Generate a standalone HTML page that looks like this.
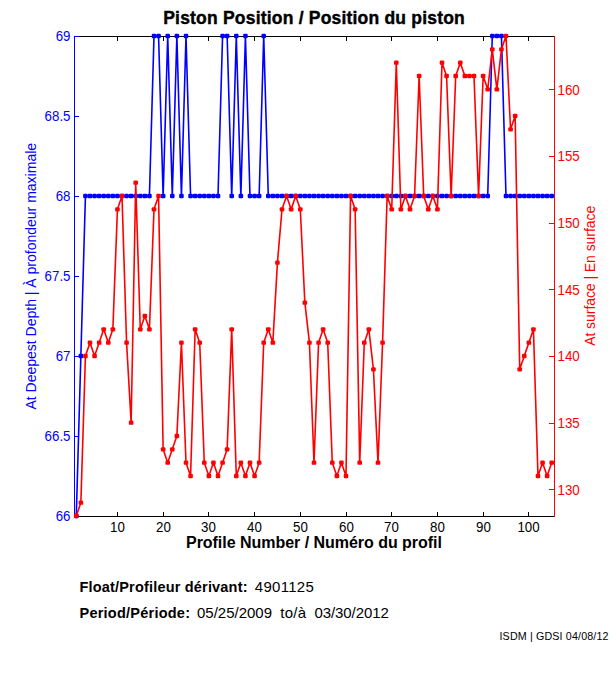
<!DOCTYPE html>
<html><head><meta charset="utf-8"><title>Piston Position</title>
<style>html,body{margin:0;padding:0;background:#fff;}body{width:611px;height:675px;position:relative;overflow:hidden;}</style></head>
<body>
<svg width="611" height="675" viewBox="0 0 611 675" style="position:absolute;left:0;top:0">
<rect width="611" height="675" fill="#fff"/>
<g shape-rendering="crispEdges" stroke-width="1" fill="none">
<path stroke="#000" d="M74.5 36.5H554.5M74.5 516.5H554.5
M117.5 516.5v-4.5M117.5 36.5v4.5
M163.5 516.5v-4.5M163.5 36.5v4.5
M208.5 516.5v-4.5M208.5 36.5v4.5
M254.5 516.5v-4.5M254.5 36.5v4.5
M300.5 516.5v-4.5M300.5 36.5v4.5
M346.5 516.5v-4.5M346.5 36.5v4.5
M391.5 516.5v-4.5M391.5 36.5v4.5
M437.5 516.5v-4.5M437.5 36.5v4.5
M483.5 516.5v-4.5M483.5 36.5v4.5
M528.5 516.5v-4.5M528.5 36.5v4.5
"/>
<path stroke="#00f" d="M74.5 36.0V517.0
M74.5 516.5h4.5
M74.5 436.5h4.5
M74.5 356.5h4.5
M74.5 276.5h4.5
M74.5 196.5h4.5
M74.5 116.5h4.5
M74.5 36.5h4.5
"/>
<path stroke="#f00" d="M554.5 36.0V517.0
M554.5 489.8h-5.5
M554.5 423.2h-5.5
M554.5 356.5h-5.5
M554.5 289.8h-5.5
M554.5 223.2h-5.5
M554.5 156.5h-5.5
M554.5 89.8h-5.5
"/>
</g>
<g>
<polyline points="76.29,516.00 80.86,356.00 85.43,196.00 90.00,196.00 94.57,196.00 99.14,196.00 103.71,196.00 108.29,196.00 112.86,196.00 117.43,196.00 122.00,196.00 126.57,196.00 131.14,196.00 135.71,196.00 140.29,196.00 144.86,196.00 149.43,196.00 154.00,36.00 158.57,36.00 163.14,196.00 167.71,36.00 172.29,196.00 176.86,36.00 181.43,196.00 186.00,36.00 190.57,196.00 195.14,196.00 199.71,196.00 204.29,196.00 208.86,196.00 213.43,196.00 218.00,196.00 222.57,36.00 227.14,36.00 231.71,196.00 236.29,36.00 240.86,196.00 245.43,36.00 250.00,196.00 254.57,196.00 259.14,196.00 263.71,36.00 268.29,196.00 272.86,196.00 277.43,196.00 282.00,196.00 286.57,196.00 291.14,196.00 295.71,196.00 300.29,196.00 304.86,196.00 309.43,196.00 314.00,196.00 318.57,196.00 323.14,196.00 327.71,196.00 332.29,196.00 336.86,196.00 341.43,196.00 346.00,196.00 350.57,196.00 355.14,196.00 359.71,196.00 364.29,196.00 368.86,196.00 373.43,196.00 378.00,196.00 382.57,196.00 387.14,196.00 391.71,196.00 396.29,196.00 400.86,196.00 405.43,196.00 410.00,196.00 414.57,196.00 419.14,196.00 423.71,196.00 428.29,196.00 432.86,196.00 437.43,196.00 442.00,196.00 446.57,196.00 451.14,196.00 455.71,196.00 460.29,196.00 464.86,196.00 469.43,196.00 474.00,196.00 478.57,196.00 483.14,196.00 487.71,196.00 492.29,36.00 496.86,36.00 501.43,36.00 506.00,196.00 510.57,196.00 515.14,196.00 519.71,196.00 524.29,196.00 528.86,196.00 533.43,196.00 538.00,196.00 542.57,196.00 547.14,196.00 551.71,196.00" fill="none" stroke="#0000ff" stroke-width="1.6" stroke-linejoin="round"/>
<g fill="#0000ff"><rect x="73.99" y="513.80" width="4.6" height="4.4" rx="1.2"/><rect x="78.56" y="353.80" width="4.6" height="4.4" rx="1.2"/><rect x="83.13" y="193.80" width="4.6" height="4.4" rx="1.2"/><rect x="87.70" y="193.80" width="4.6" height="4.4" rx="1.2"/><rect x="92.27" y="193.80" width="4.6" height="4.4" rx="1.2"/><rect x="96.84" y="193.80" width="4.6" height="4.4" rx="1.2"/><rect x="101.41" y="193.80" width="4.6" height="4.4" rx="1.2"/><rect x="105.99" y="193.80" width="4.6" height="4.4" rx="1.2"/><rect x="110.56" y="193.80" width="4.6" height="4.4" rx="1.2"/><rect x="115.13" y="193.80" width="4.6" height="4.4" rx="1.2"/><rect x="119.70" y="193.80" width="4.6" height="4.4" rx="1.2"/><rect x="124.27" y="193.80" width="4.6" height="4.4" rx="1.2"/><rect x="128.84" y="193.80" width="4.6" height="4.4" rx="1.2"/><rect x="133.41" y="193.80" width="4.6" height="4.4" rx="1.2"/><rect x="137.99" y="193.80" width="4.6" height="4.4" rx="1.2"/><rect x="142.56" y="193.80" width="4.6" height="4.4" rx="1.2"/><rect x="147.13" y="193.80" width="4.6" height="4.4" rx="1.2"/><rect x="151.70" y="33.80" width="4.6" height="4.4" rx="1.2"/><rect x="156.27" y="33.80" width="4.6" height="4.4" rx="1.2"/><rect x="160.84" y="193.80" width="4.6" height="4.4" rx="1.2"/><rect x="165.41" y="33.80" width="4.6" height="4.4" rx="1.2"/><rect x="169.99" y="193.80" width="4.6" height="4.4" rx="1.2"/><rect x="174.56" y="33.80" width="4.6" height="4.4" rx="1.2"/><rect x="179.13" y="193.80" width="4.6" height="4.4" rx="1.2"/><rect x="183.70" y="33.80" width="4.6" height="4.4" rx="1.2"/><rect x="188.27" y="193.80" width="4.6" height="4.4" rx="1.2"/><rect x="192.84" y="193.80" width="4.6" height="4.4" rx="1.2"/><rect x="197.41" y="193.80" width="4.6" height="4.4" rx="1.2"/><rect x="201.99" y="193.80" width="4.6" height="4.4" rx="1.2"/><rect x="206.56" y="193.80" width="4.6" height="4.4" rx="1.2"/><rect x="211.13" y="193.80" width="4.6" height="4.4" rx="1.2"/><rect x="215.70" y="193.80" width="4.6" height="4.4" rx="1.2"/><rect x="220.27" y="33.80" width="4.6" height="4.4" rx="1.2"/><rect x="224.84" y="33.80" width="4.6" height="4.4" rx="1.2"/><rect x="229.41" y="193.80" width="4.6" height="4.4" rx="1.2"/><rect x="233.99" y="33.80" width="4.6" height="4.4" rx="1.2"/><rect x="238.56" y="193.80" width="4.6" height="4.4" rx="1.2"/><rect x="243.13" y="33.80" width="4.6" height="4.4" rx="1.2"/><rect x="247.70" y="193.80" width="4.6" height="4.4" rx="1.2"/><rect x="252.27" y="193.80" width="4.6" height="4.4" rx="1.2"/><rect x="256.84" y="193.80" width="4.6" height="4.4" rx="1.2"/><rect x="261.41" y="33.80" width="4.6" height="4.4" rx="1.2"/><rect x="265.99" y="193.80" width="4.6" height="4.4" rx="1.2"/><rect x="270.56" y="193.80" width="4.6" height="4.4" rx="1.2"/><rect x="275.13" y="193.80" width="4.6" height="4.4" rx="1.2"/><rect x="279.70" y="193.80" width="4.6" height="4.4" rx="1.2"/><rect x="284.27" y="193.80" width="4.6" height="4.4" rx="1.2"/><rect x="288.84" y="193.80" width="4.6" height="4.4" rx="1.2"/><rect x="293.41" y="193.80" width="4.6" height="4.4" rx="1.2"/><rect x="297.99" y="193.80" width="4.6" height="4.4" rx="1.2"/><rect x="302.56" y="193.80" width="4.6" height="4.4" rx="1.2"/><rect x="307.13" y="193.80" width="4.6" height="4.4" rx="1.2"/><rect x="311.70" y="193.80" width="4.6" height="4.4" rx="1.2"/><rect x="316.27" y="193.80" width="4.6" height="4.4" rx="1.2"/><rect x="320.84" y="193.80" width="4.6" height="4.4" rx="1.2"/><rect x="325.41" y="193.80" width="4.6" height="4.4" rx="1.2"/><rect x="329.99" y="193.80" width="4.6" height="4.4" rx="1.2"/><rect x="334.56" y="193.80" width="4.6" height="4.4" rx="1.2"/><rect x="339.13" y="193.80" width="4.6" height="4.4" rx="1.2"/><rect x="343.70" y="193.80" width="4.6" height="4.4" rx="1.2"/><rect x="348.27" y="193.80" width="4.6" height="4.4" rx="1.2"/><rect x="352.84" y="193.80" width="4.6" height="4.4" rx="1.2"/><rect x="357.41" y="193.80" width="4.6" height="4.4" rx="1.2"/><rect x="361.99" y="193.80" width="4.6" height="4.4" rx="1.2"/><rect x="366.56" y="193.80" width="4.6" height="4.4" rx="1.2"/><rect x="371.13" y="193.80" width="4.6" height="4.4" rx="1.2"/><rect x="375.70" y="193.80" width="4.6" height="4.4" rx="1.2"/><rect x="380.27" y="193.80" width="4.6" height="4.4" rx="1.2"/><rect x="384.84" y="193.80" width="4.6" height="4.4" rx="1.2"/><rect x="389.41" y="193.80" width="4.6" height="4.4" rx="1.2"/><rect x="393.99" y="193.80" width="4.6" height="4.4" rx="1.2"/><rect x="398.56" y="193.80" width="4.6" height="4.4" rx="1.2"/><rect x="403.13" y="193.80" width="4.6" height="4.4" rx="1.2"/><rect x="407.70" y="193.80" width="4.6" height="4.4" rx="1.2"/><rect x="412.27" y="193.80" width="4.6" height="4.4" rx="1.2"/><rect x="416.84" y="193.80" width="4.6" height="4.4" rx="1.2"/><rect x="421.41" y="193.80" width="4.6" height="4.4" rx="1.2"/><rect x="425.99" y="193.80" width="4.6" height="4.4" rx="1.2"/><rect x="430.56" y="193.80" width="4.6" height="4.4" rx="1.2"/><rect x="435.13" y="193.80" width="4.6" height="4.4" rx="1.2"/><rect x="439.70" y="193.80" width="4.6" height="4.4" rx="1.2"/><rect x="444.27" y="193.80" width="4.6" height="4.4" rx="1.2"/><rect x="448.84" y="193.80" width="4.6" height="4.4" rx="1.2"/><rect x="453.41" y="193.80" width="4.6" height="4.4" rx="1.2"/><rect x="457.99" y="193.80" width="4.6" height="4.4" rx="1.2"/><rect x="462.56" y="193.80" width="4.6" height="4.4" rx="1.2"/><rect x="467.13" y="193.80" width="4.6" height="4.4" rx="1.2"/><rect x="471.70" y="193.80" width="4.6" height="4.4" rx="1.2"/><rect x="476.27" y="193.80" width="4.6" height="4.4" rx="1.2"/><rect x="480.84" y="193.80" width="4.6" height="4.4" rx="1.2"/><rect x="485.41" y="193.80" width="4.6" height="4.4" rx="1.2"/><rect x="489.99" y="33.80" width="4.6" height="4.4" rx="1.2"/><rect x="494.56" y="33.80" width="4.6" height="4.4" rx="1.2"/><rect x="499.13" y="33.80" width="4.6" height="4.4" rx="1.2"/><rect x="503.70" y="193.80" width="4.6" height="4.4" rx="1.2"/><rect x="508.27" y="193.80" width="4.6" height="4.4" rx="1.2"/><rect x="512.84" y="193.80" width="4.6" height="4.4" rx="1.2"/><rect x="517.41" y="193.80" width="4.6" height="4.4" rx="1.2"/><rect x="521.99" y="193.80" width="4.6" height="4.4" rx="1.2"/><rect x="526.56" y="193.80" width="4.6" height="4.4" rx="1.2"/><rect x="531.13" y="193.80" width="4.6" height="4.4" rx="1.2"/><rect x="535.70" y="193.80" width="4.6" height="4.4" rx="1.2"/><rect x="540.27" y="193.80" width="4.6" height="4.4" rx="1.2"/><rect x="544.84" y="193.80" width="4.6" height="4.4" rx="1.2"/><rect x="549.41" y="193.80" width="4.6" height="4.4" rx="1.2"/></g>

<polyline points="76.29,516.00 80.86,502.67 85.43,356.00 90.00,342.67 94.57,356.00 99.14,342.67 103.71,329.33 108.29,342.67 112.86,329.33 117.43,209.33 122.00,196.00 126.57,342.67 131.14,422.67 135.71,182.67 140.29,329.33 144.86,316.00 149.43,329.33 154.00,209.33 158.57,196.00 163.14,449.33 167.71,462.67 172.29,449.33 176.86,436.00 181.43,342.67 186.00,462.67 190.57,476.00 195.14,329.33 199.71,342.67 204.29,462.67 208.86,476.00 213.43,462.67 218.00,476.00 222.57,462.67 227.14,449.33 231.71,329.33 236.29,476.00 240.86,462.67 245.43,476.00 250.00,462.67 254.57,476.00 259.14,462.67 263.71,342.67 268.29,329.33 272.86,342.67 277.43,262.67 282.00,209.33 286.57,196.00 291.14,209.33 295.71,196.00 300.29,209.33 304.86,302.67 309.43,342.67 314.00,462.67 318.57,342.67 323.14,329.33 327.71,342.67 332.29,462.67 336.86,476.00 341.43,462.67 346.00,476.00 350.57,196.00 355.14,209.33 359.71,462.67 364.29,342.67 368.86,329.33 373.43,369.33 378.00,462.67 382.57,342.67 387.14,196.00 391.71,209.33 396.29,62.67 400.86,209.33 405.43,196.00 410.00,209.33 414.57,196.00 419.14,76.00 423.71,196.00 428.29,209.33 432.86,196.00 437.43,209.33 442.00,62.67 446.57,76.00 451.14,196.00 455.71,76.00 460.29,62.67 464.86,76.00 469.43,76.00 474.00,76.00 478.57,196.00 483.14,76.00 487.71,89.33 492.29,49.33 496.86,89.33 501.43,49.33 506.00,36.00 510.57,129.33 515.14,116.00 519.71,369.33 524.29,356.00 528.86,342.67 533.43,329.33 538.00,476.00 542.57,462.67 547.14,476.00 551.71,462.67" fill="none" stroke="#ff0000" stroke-width="1.6" stroke-linejoin="round"/>
<g fill="#ff0000"><rect x="73.99" y="513.80" width="4.6" height="4.4" rx="1.2"/><rect x="78.56" y="500.47" width="4.6" height="4.4" rx="1.2"/><rect x="83.13" y="353.80" width="4.6" height="4.4" rx="1.2"/><rect x="87.70" y="340.47" width="4.6" height="4.4" rx="1.2"/><rect x="92.27" y="353.80" width="4.6" height="4.4" rx="1.2"/><rect x="96.84" y="340.47" width="4.6" height="4.4" rx="1.2"/><rect x="101.41" y="327.13" width="4.6" height="4.4" rx="1.2"/><rect x="105.99" y="340.47" width="4.6" height="4.4" rx="1.2"/><rect x="110.56" y="327.13" width="4.6" height="4.4" rx="1.2"/><rect x="115.13" y="207.13" width="4.6" height="4.4" rx="1.2"/><rect x="119.70" y="193.80" width="4.6" height="4.4" rx="1.2"/><rect x="124.27" y="340.47" width="4.6" height="4.4" rx="1.2"/><rect x="128.84" y="420.47" width="4.6" height="4.4" rx="1.2"/><rect x="133.41" y="180.47" width="4.6" height="4.4" rx="1.2"/><rect x="137.99" y="327.13" width="4.6" height="4.4" rx="1.2"/><rect x="142.56" y="313.80" width="4.6" height="4.4" rx="1.2"/><rect x="147.13" y="327.13" width="4.6" height="4.4" rx="1.2"/><rect x="151.70" y="207.13" width="4.6" height="4.4" rx="1.2"/><rect x="156.27" y="193.80" width="4.6" height="4.4" rx="1.2"/><rect x="160.84" y="447.13" width="4.6" height="4.4" rx="1.2"/><rect x="165.41" y="460.47" width="4.6" height="4.4" rx="1.2"/><rect x="169.99" y="447.13" width="4.6" height="4.4" rx="1.2"/><rect x="174.56" y="433.80" width="4.6" height="4.4" rx="1.2"/><rect x="179.13" y="340.47" width="4.6" height="4.4" rx="1.2"/><rect x="183.70" y="460.47" width="4.6" height="4.4" rx="1.2"/><rect x="188.27" y="473.80" width="4.6" height="4.4" rx="1.2"/><rect x="192.84" y="327.13" width="4.6" height="4.4" rx="1.2"/><rect x="197.41" y="340.47" width="4.6" height="4.4" rx="1.2"/><rect x="201.99" y="460.47" width="4.6" height="4.4" rx="1.2"/><rect x="206.56" y="473.80" width="4.6" height="4.4" rx="1.2"/><rect x="211.13" y="460.47" width="4.6" height="4.4" rx="1.2"/><rect x="215.70" y="473.80" width="4.6" height="4.4" rx="1.2"/><rect x="220.27" y="460.47" width="4.6" height="4.4" rx="1.2"/><rect x="224.84" y="447.13" width="4.6" height="4.4" rx="1.2"/><rect x="229.41" y="327.13" width="4.6" height="4.4" rx="1.2"/><rect x="233.99" y="473.80" width="4.6" height="4.4" rx="1.2"/><rect x="238.56" y="460.47" width="4.6" height="4.4" rx="1.2"/><rect x="243.13" y="473.80" width="4.6" height="4.4" rx="1.2"/><rect x="247.70" y="460.47" width="4.6" height="4.4" rx="1.2"/><rect x="252.27" y="473.80" width="4.6" height="4.4" rx="1.2"/><rect x="256.84" y="460.47" width="4.6" height="4.4" rx="1.2"/><rect x="261.41" y="340.47" width="4.6" height="4.4" rx="1.2"/><rect x="265.99" y="327.13" width="4.6" height="4.4" rx="1.2"/><rect x="270.56" y="340.47" width="4.6" height="4.4" rx="1.2"/><rect x="275.13" y="260.47" width="4.6" height="4.4" rx="1.2"/><rect x="279.70" y="207.13" width="4.6" height="4.4" rx="1.2"/><rect x="284.27" y="193.80" width="4.6" height="4.4" rx="1.2"/><rect x="288.84" y="207.13" width="4.6" height="4.4" rx="1.2"/><rect x="293.41" y="193.80" width="4.6" height="4.4" rx="1.2"/><rect x="297.99" y="207.13" width="4.6" height="4.4" rx="1.2"/><rect x="302.56" y="300.47" width="4.6" height="4.4" rx="1.2"/><rect x="307.13" y="340.47" width="4.6" height="4.4" rx="1.2"/><rect x="311.70" y="460.47" width="4.6" height="4.4" rx="1.2"/><rect x="316.27" y="340.47" width="4.6" height="4.4" rx="1.2"/><rect x="320.84" y="327.13" width="4.6" height="4.4" rx="1.2"/><rect x="325.41" y="340.47" width="4.6" height="4.4" rx="1.2"/><rect x="329.99" y="460.47" width="4.6" height="4.4" rx="1.2"/><rect x="334.56" y="473.80" width="4.6" height="4.4" rx="1.2"/><rect x="339.13" y="460.47" width="4.6" height="4.4" rx="1.2"/><rect x="343.70" y="473.80" width="4.6" height="4.4" rx="1.2"/><rect x="348.27" y="193.80" width="4.6" height="4.4" rx="1.2"/><rect x="352.84" y="207.13" width="4.6" height="4.4" rx="1.2"/><rect x="357.41" y="460.47" width="4.6" height="4.4" rx="1.2"/><rect x="361.99" y="340.47" width="4.6" height="4.4" rx="1.2"/><rect x="366.56" y="327.13" width="4.6" height="4.4" rx="1.2"/><rect x="371.13" y="367.13" width="4.6" height="4.4" rx="1.2"/><rect x="375.70" y="460.47" width="4.6" height="4.4" rx="1.2"/><rect x="380.27" y="340.47" width="4.6" height="4.4" rx="1.2"/><rect x="384.84" y="193.80" width="4.6" height="4.4" rx="1.2"/><rect x="389.41" y="207.13" width="4.6" height="4.4" rx="1.2"/><rect x="393.99" y="60.47" width="4.6" height="4.4" rx="1.2"/><rect x="398.56" y="207.13" width="4.6" height="4.4" rx="1.2"/><rect x="403.13" y="193.80" width="4.6" height="4.4" rx="1.2"/><rect x="407.70" y="207.13" width="4.6" height="4.4" rx="1.2"/><rect x="412.27" y="193.80" width="4.6" height="4.4" rx="1.2"/><rect x="416.84" y="73.80" width="4.6" height="4.4" rx="1.2"/><rect x="421.41" y="193.80" width="4.6" height="4.4" rx="1.2"/><rect x="425.99" y="207.13" width="4.6" height="4.4" rx="1.2"/><rect x="430.56" y="193.80" width="4.6" height="4.4" rx="1.2"/><rect x="435.13" y="207.13" width="4.6" height="4.4" rx="1.2"/><rect x="439.70" y="60.47" width="4.6" height="4.4" rx="1.2"/><rect x="444.27" y="73.80" width="4.6" height="4.4" rx="1.2"/><rect x="448.84" y="193.80" width="4.6" height="4.4" rx="1.2"/><rect x="453.41" y="73.80" width="4.6" height="4.4" rx="1.2"/><rect x="457.99" y="60.47" width="4.6" height="4.4" rx="1.2"/><rect x="462.56" y="73.80" width="4.6" height="4.4" rx="1.2"/><rect x="467.13" y="73.80" width="4.6" height="4.4" rx="1.2"/><rect x="471.70" y="73.80" width="4.6" height="4.4" rx="1.2"/><rect x="476.27" y="193.80" width="4.6" height="4.4" rx="1.2"/><rect x="480.84" y="73.80" width="4.6" height="4.4" rx="1.2"/><rect x="485.41" y="87.13" width="4.6" height="4.4" rx="1.2"/><rect x="489.99" y="47.13" width="4.6" height="4.4" rx="1.2"/><rect x="494.56" y="87.13" width="4.6" height="4.4" rx="1.2"/><rect x="499.13" y="47.13" width="4.6" height="4.4" rx="1.2"/><rect x="503.70" y="33.80" width="4.6" height="4.4" rx="1.2"/><rect x="508.27" y="127.13" width="4.6" height="4.4" rx="1.2"/><rect x="512.84" y="113.80" width="4.6" height="4.4" rx="1.2"/><rect x="517.41" y="367.13" width="4.6" height="4.4" rx="1.2"/><rect x="521.99" y="353.80" width="4.6" height="4.4" rx="1.2"/><rect x="526.56" y="340.47" width="4.6" height="4.4" rx="1.2"/><rect x="531.13" y="327.13" width="4.6" height="4.4" rx="1.2"/><rect x="535.70" y="473.80" width="4.6" height="4.4" rx="1.2"/><rect x="540.27" y="460.47" width="4.6" height="4.4" rx="1.2"/><rect x="544.84" y="473.80" width="4.6" height="4.4" rx="1.2"/><rect x="549.41" y="460.47" width="4.6" height="4.4" rx="1.2"/></g>

</g>
<g font-family="'Liberation Sans', sans-serif" font-size="14px">
<text x="110.1" y="532.3" textLength="14.8" lengthAdjust="spacingAndGlyphs" fill="#000">10</text>
<text x="156.1" y="532.3" textLength="14.8" lengthAdjust="spacingAndGlyphs" fill="#000">20</text>
<text x="201.1" y="532.3" textLength="14.8" lengthAdjust="spacingAndGlyphs" fill="#000">30</text>
<text x="247.1" y="532.3" textLength="14.8" lengthAdjust="spacingAndGlyphs" fill="#000">40</text>
<text x="293.1" y="532.3" textLength="14.8" lengthAdjust="spacingAndGlyphs" fill="#000">50</text>
<text x="339.1" y="532.3" textLength="14.8" lengthAdjust="spacingAndGlyphs" fill="#000">60</text>
<text x="384.1" y="532.3" textLength="14.8" lengthAdjust="spacingAndGlyphs" fill="#000">70</text>
<text x="430.1" y="532.3" textLength="14.8" lengthAdjust="spacingAndGlyphs" fill="#000">80</text>
<text x="476.1" y="532.3" textLength="14.8" lengthAdjust="spacingAndGlyphs" fill="#000">90</text>
<text x="517.4" y="532.3" textLength="22.2" lengthAdjust="spacingAndGlyphs" fill="#000">100</text>
<text x="55.7" y="521.3" textLength="14.8" lengthAdjust="spacingAndGlyphs" fill="#00f">66</text>
<text x="44.6" y="441.3" textLength="25.9" lengthAdjust="spacingAndGlyphs" fill="#00f">66.5</text>
<text x="55.7" y="361.3" textLength="14.8" lengthAdjust="spacingAndGlyphs" fill="#00f">67</text>
<text x="44.6" y="281.3" textLength="25.9" lengthAdjust="spacingAndGlyphs" fill="#00f">67.5</text>
<text x="55.7" y="201.3" textLength="14.8" lengthAdjust="spacingAndGlyphs" fill="#00f">68</text>
<text x="44.6" y="121.3" textLength="25.9" lengthAdjust="spacingAndGlyphs" fill="#00f">68.5</text>
<text x="55.7" y="41.3" textLength="14.8" lengthAdjust="spacingAndGlyphs" fill="#00f">69</text>
<text x="557.5" y="494.6" textLength="22.2" lengthAdjust="spacingAndGlyphs" fill="#f00">130</text>
<text x="557.5" y="428.0" textLength="22.2" lengthAdjust="spacingAndGlyphs" fill="#f00">135</text>
<text x="557.5" y="361.3" textLength="22.2" lengthAdjust="spacingAndGlyphs" fill="#f00">140</text>
<text x="557.5" y="294.6" textLength="22.2" lengthAdjust="spacingAndGlyphs" fill="#f00">145</text>
<text x="557.5" y="228.0" textLength="22.2" lengthAdjust="spacingAndGlyphs" fill="#f00">150</text>
<text x="557.5" y="161.3" textLength="22.2" lengthAdjust="spacingAndGlyphs" fill="#f00">155</text>
<text x="557.5" y="94.6" textLength="22.2" lengthAdjust="spacingAndGlyphs" fill="#f00">160</text>
</g>
<text x="163.2" y="24.1" textLength="301.6" lengthAdjust="spacing" font-family="'Liberation Sans', sans-serif" font-size="17.5px" font-weight="bold" fill="#000" stroke="#000" stroke-width="0.4">Piston Position / Position du piston</text>
<text x="186" y="547.8" textLength="255.9" lengthAdjust="spacing" font-family="'Liberation Sans', sans-serif" font-size="16px" font-weight="bold" fill="#000">Profile Number / Numéro du profil</text>
<text transform="translate(35.9 409.5) rotate(-90)" textLength="266.6" lengthAdjust="spacing" font-family="'Liberation Sans', sans-serif" font-size="14px" fill="#00f">At Deepest Depth | À profondeur maximale</text>
<text transform="translate(594.9 345.8) rotate(-90)" textLength="140" lengthAdjust="spacing" font-family="'Liberation Sans', sans-serif" font-size="14px" fill="#f00">At surface | En surface</text>
<text y="592" font-family="'Liberation Sans', sans-serif" font-size="14.5px" fill="#000"><tspan x="79.5" font-weight="bold" textLength="168" lengthAdjust="spacing">Float/Profileur dérivant:</tspan><tspan x="254.8" font-size="15px" textLength="59" lengthAdjust="spacing">4901125</tspan></text>
<text y="618" font-family="'Liberation Sans', sans-serif" font-size="14.5px" fill="#000"><tspan x="79.5" font-weight="bold" textLength="110.5" lengthAdjust="spacing">Period/Période:</tspan><tspan x="197" font-size="15px" textLength="75" lengthAdjust="spacing">05/25/2009</tspan><tspan x="280.3" font-size="15px" textLength="25.8" lengthAdjust="spacing">to/à</tspan><tspan x="314.4" font-size="15px" textLength="74.4" lengthAdjust="spacing">03/30/2012</tspan></text>
<text x="499.5" y="640" textLength="109" lengthAdjust="spacing" font-family="'Liberation Sans', sans-serif" font-size="10.7px" fill="#000">ISDM | GDSI 04/08/12</text>
</svg>
</body></html>
